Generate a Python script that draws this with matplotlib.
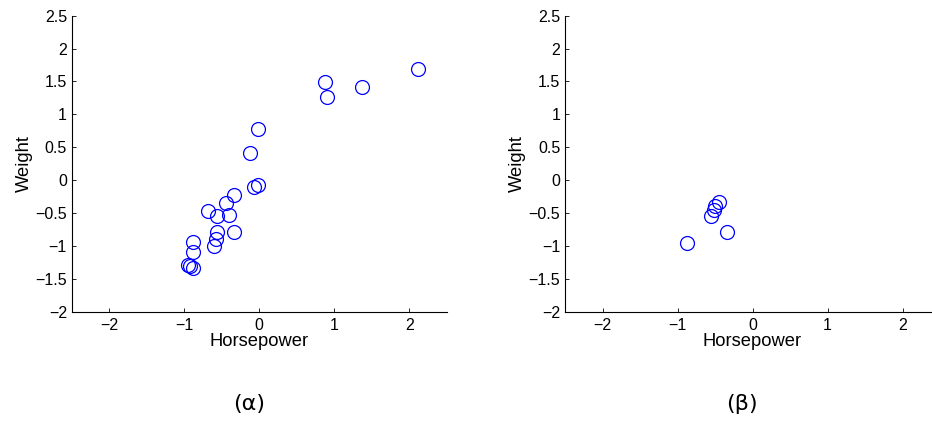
import matplotlib
matplotlib.use("Agg")
import matplotlib.pyplot as plt

plt.rcParams['font.family'] = ['Liberation Sans', 'DejaVu Sans']

hp_a = [2.12, 0.88, 0.90, 1.37, -0.02, -0.13, -0.02, -0.07, -0.34, -0.45, -0.69,
        -0.56, -0.41, -0.34, -0.57, -0.58, -0.60, -0.88, -0.88, -0.95, -0.92, -0.88]
wt_a = [1.69, 1.485, 1.26, 1.42, 0.78, 0.42, -0.075, -0.105, -0.22, -0.34, -0.475,
        -0.54, -0.526, -0.79, -0.79, -0.895, -1.0, -0.94, -1.09, -1.29, -1.30, -1.34]

hp_b = [-0.45, -0.50, -0.52, -0.56, -0.34, -0.88]
wt_b = [-0.33, -0.40, -0.45, -0.54, -0.79, -0.95]

xticks = [-2, -1, 0, 1, 2]
yticks = [-2, -1.5, -1, -0.5, 0, 0.5, 1, 1.5, 2, 2.5]
ytick_labels = ['\u22122', '\u22121.5', '\u22121', '\u22120.5', '0', '0.5', '1', '1.5', '2', '2.5']
xtick_labels = ['\u22122', '\u22121', '0', '1', '2']
captions = ['(\u03b1)', '(\u03b2)']

fig = plt.figure(figsize=(9.32, 4.24), dpi=100)
W, H = 932, 424
axes_specs = [(71.8, 15.7, 375, 296), (565, 15.7, 375, 296)]
cap_x = [249, 742]

for i, (hx, wy) in enumerate([(hp_a, wt_a), (hp_b, wt_b)]):
    l, t, w, h = axes_specs[i]
    ax = fig.add_axes([l / W, 1 - (t + h) / H, w / W, h / H])
    ax.plot(hx, wy, 'o', mfc='none', mec=(0, 0, 1), ms=10, mew=0.9, clip_on=False)
    ax.set_xlim(-2.5, 2.5)
    ax.set_ylim(-2, 2.5)
    ax.set_xticks(xticks)
    ax.set_xticklabels(xtick_labels)
    ax.set_yticks(yticks)
    ax.set_yticklabels(ytick_labels)
    for s in ['top', 'right']:
        ax.spines[s].set_visible(False)
    for s in ['left', 'bottom']:
        ax.spines[s].set_linewidth(0.8)
    ax.tick_params(direction='in', length=3, width=0.6, labelsize=11.5, pad=4.5)
    ax.tick_params(axis='y', pad=3.5)
    ax.set_xlabel('Horsepower', fontsize=13.2)
    ax.set_ylabel('Weight', fontsize=13.2)
    ax.xaxis.set_label_coords(0.5, -0.072)
    ax.yaxis.set_label_coords(-0.104, 0.5)
    fig.text(cap_x[i] / W, 1 - 404 / H, captions[i], fontsize=16,
             ha='center', va='center', family=['DejaVu Sans'])

fig.savefig('out.png', dpi=100)
